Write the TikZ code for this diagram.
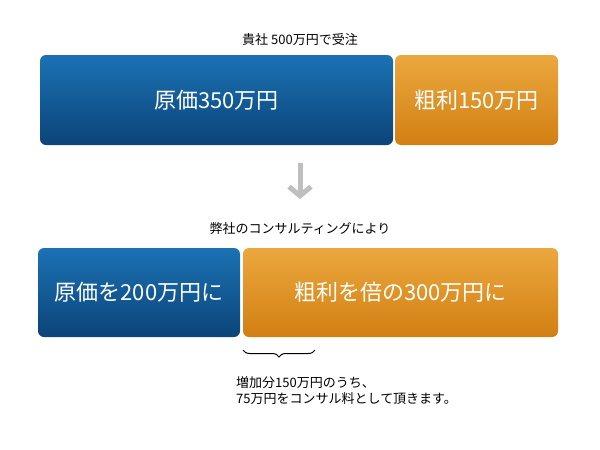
\documentclass[tikz,border=0pt]{standalone}
\usepackage{fontspec}
\setmainfont{Noto Sans CJK JP}
\usetikzlibrary{positioning,arrows.meta,decorations.pathreplacing}
\definecolor{bluetop}{HTML}{1B72B4}
\definecolor{bluebot}{HTML}{0B4478}
\definecolor{orgtop}{HTML}{EBA83E}
\definecolor{orgbot}{HTML}{D27F12}
\begin{document}
\begin{tikzpicture}[x=1pt,y=-1pt]
    \tikzset{bluebox/.style={rounded corners=6pt, top color=bluetop, bottom color=bluebot,
            text=white, font=\fontsize{22}{26}\selectfont, inner sep=0pt},
        orgbox/.style={rounded corners=6pt, top color=orgtop, bottom color=orgbot,
            text=white, font=\fontsize{22}{26}\selectfont, inner sep=0pt},
        caption/.style={font=\fontsize{13}{16}\selectfont}}
    \useasboundingbox (0,0) rectangle (600,450);

    %before
    \node[caption] (title) at (300,40) {貴社 500万円で受注};
    \node[bluebox, minimum width=353pt, minimum height=90pt] (cost) at (216.5,100) {原価350万円};
    \node[orgbox, minimum width=163pt, minimum height=90pt] (profit) at (476.5,100) {粗利150万円};

    %arrow
    \draw[line width=5pt, color=black!25, -{Straight Barb[length=9pt,width=22pt]}]
        (300,163) -- (300,199);

    %after
    \node[caption] (via) at (300,229) {弊社のコンサルティングにより};
    \node[bluebox, minimum width=202pt, minimum height=89pt] (newcost) at (139,292.5) {原価を200万円に};
    \node[orgbox, minimum width=315pt, minimum height=89pt] (newprofit) at (400.5,292.5) {粗利を倍の300万円に};

    %brace
    \draw[decorate, decoration={brace, amplitude=7pt}, line width=1pt]
        (315,350) -- (243,350);
    \node[caption, anchor=north west, align=left, inner sep=0pt] (note) at (236,376)
        {増加分150万円のうち、\\75万円をコンサル料として頂きます。};
\end{tikzpicture}
\end{document}
